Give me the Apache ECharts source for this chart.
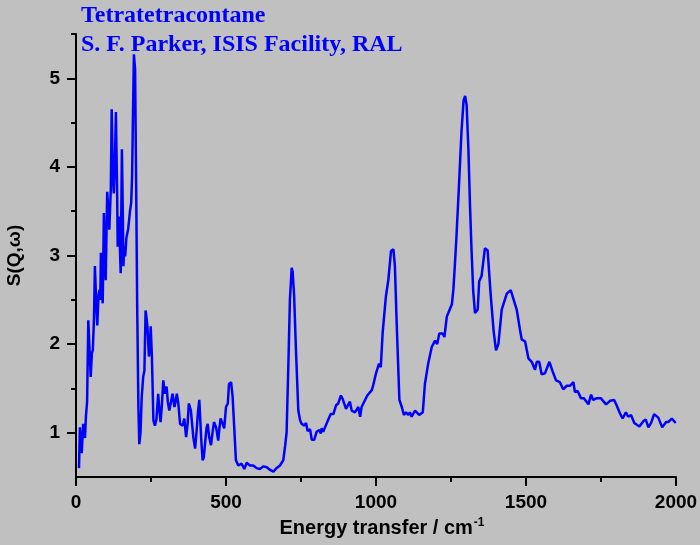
<!DOCTYPE html>
<html>
<head>
<meta charset="utf-8">
<script src="https://cdn.jsdelivr.net/npm/echarts@6/dist/echarts.min.js"></script>
<style>
  html, body { margin: 0; padding: 0; background: #c0c0c0; }
  #chart { width: 700px; height: 545px; }
</style>
</head>
<body>
<div id="chart"></div>
<script>
// energy transfer (cm-1) and S(Q,w)
const energy = [
  10, 13, 19, 24, 30, 33, 37, 41, 45, 49, 53, 56, 60, 63, 67, 71, 75, 78, 81, 83,
  86, 89, 93, 96, 99, 104, 108, 111, 116, 119, 123, 126, 130, 133, 137, 139, 142, 144, 147, 149,
  153, 156, 158, 161, 164, 168, 174, 180, 184, 187, 190, 193, 197, 200, 204, 208, 211, 215, 219, 224,
  228, 232, 235, 238, 243, 246, 249, 253, 258, 263, 268, 274, 278, 282, 286, 291, 296, 302, 306, 311,
  317, 322, 328, 332, 336, 341, 347, 352, 356, 361, 367, 372, 376, 383, 387, 391, 397, 402, 407, 411,
  417, 422, 426, 430, 435, 439, 444, 450, 455, 460, 467, 474, 478, 482, 489, 494, 500, 506, 510, 517,
  522, 528, 533, 541, 552, 561, 569, 580, 591, 602, 613, 625, 636, 647, 658, 668, 680, 691, 697, 702,
  708, 713, 719, 722, 727, 733, 741, 747, 752, 760, 767, 772, 780, 786, 794, 802, 811, 816, 819, 824,
  830, 841, 849, 858, 867, 874, 883, 889, 900, 913, 919, 930, 941, 947, 952, 958, 971, 986, 991, 1000,
  1006, 1010, 1016, 1022, 1033, 1041, 1050, 1058, 1063, 1069, 1078, 1086, 1093, 1100, 1108, 1113, 1119, 1130, 1144, 1156,
  1163, 1174, 1186, 1197, 1204, 1211, 1222, 1228, 1236, 1241, 1247, 1253, 1258, 1263, 1268, 1276, 1285, 1292, 1297, 1302,
  1308, 1313, 1318, 1324, 1330, 1339, 1344, 1352, 1363, 1372, 1382, 1392, 1400, 1408, 1419, 1436, 1449, 1458, 1469, 1480,
  1486, 1497, 1508, 1519, 1530, 1536, 1544, 1552, 1563, 1578, 1589, 1600, 1613, 1624, 1636, 1647, 1658, 1663, 1672, 1683,
  1693, 1708, 1717, 1724, 1736, 1749, 1767, 1780, 1794, 1802, 1813, 1822, 1833, 1841, 1850, 1861, 1878, 1891, 1899, 1908,
  1917, 1927, 1941, 1954, 1967, 1974, 1986, 1999
];
const sqw = [
  0.60, 1.06, 0.77, 1.10, 0.94, 1.18, 1.35, 2.27, 1.95, 1.63, 1.90, 1.93, 2.30, 2.88, 2.50, 2.21, 2.55, 2.61, 2.50, 3.03,
  2.80, 2.46, 3.48, 3.00, 2.72, 3.72, 3.50, 3.29, 3.75, 4.65, 3.90, 3.70, 4.10, 4.62, 3.74, 3.10, 3.35, 3.44, 3.00, 2.80,
  4.20, 3.50, 2.88, 3.10, 2.99, 3.20, 3.30, 3.50, 3.60, 3.90, 4.60, 5.27, 5.10, 4.00, 2.42, 1.29, 0.87, 1.00, 1.40, 1.63,
  1.70, 2.38, 2.30, 2.20, 1.86, 1.95, 2.20, 1.86, 1.14, 1.08, 1.15, 1.44, 1.25, 1.12, 1.30, 1.59, 1.44, 1.52, 1.35, 1.25,
  1.23, 1.44, 1.29, 1.35, 1.44, 1.33, 1.10, 1.08, 1.08, 1.16, 0.95, 1.10, 1.33, 1.25, 1.10, 0.95, 0.82, 1.02, 1.25, 1.37,
  0.95, 0.69, 0.72, 0.87, 1.05, 1.10, 0.95, 0.86, 1.00, 1.12, 1.06, 0.91, 1.05, 1.16, 1.10, 1.05, 1.29, 1.33, 1.55, 1.57,
  1.41, 1.02, 0.69, 0.63, 0.65, 0.59, 0.66, 0.63, 0.63, 0.60, 0.59, 0.62, 0.61, 0.58, 0.56, 0.60, 0.63, 0.69, 0.85, 1.00,
  1.78, 2.50, 2.86, 2.82, 2.55, 1.95, 1.25, 1.14, 1.10, 1.08, 1.11, 1.02, 1.04, 0.92, 0.92, 1.01, 1.03, 0.99, 1.05, 1.01,
  1.06, 1.15, 1.21, 1.21, 1.31, 1.33, 1.42, 1.38, 1.27, 1.35, 1.25, 1.23, 1.29, 1.18, 1.29, 1.27, 1.42, 1.48, 1.54, 1.67,
  1.65, 1.78, 1.74, 2.12, 2.54, 2.72, 3.05, 3.07, 2.88, 2.23, 1.37, 1.29, 1.20, 1.23, 1.20, 1.23, 1.18, 1.25, 1.20, 1.23,
  1.55, 1.78, 1.97, 2.04, 2.00, 2.12, 2.12, 2.08, 2.31, 2.35, 2.33, 2.45, 2.62, 2.90, 3.20, 3.75, 4.40, 4.75, 4.80, 4.70,
  4.20, 3.60, 3.10, 2.60, 2.35, 2.39, 2.71, 2.77, 3.08, 3.06, 2.57, 2.15, 1.93, 2.00, 2.39, 2.57, 2.61, 2.51, 2.39, 2.16,
  2.05, 2.03, 1.84, 1.80, 1.71, 1.80, 1.80, 1.66, 1.67, 1.80, 1.69, 1.59, 1.57, 1.49, 1.53, 1.53, 1.57, 1.46, 1.47, 1.39,
  1.39, 1.32, 1.43, 1.37, 1.39, 1.39, 1.32, 1.36, 1.37, 1.31, 1.22, 1.16, 1.23, 1.18, 1.20, 1.11, 1.07, 1.13, 1.15, 1.06,
  1.11, 1.21, 1.17, 1.06, 1.12, 1.12, 1.16, 1.11
];

// tick values
const xMajorTicks = [0, 500, 1000, 1500, 2000];
const xMinorTicks = [250, 750, 1250, 1750];
const yMajorTicks = [1, 2, 3, 4, 5];
const yMinorTicks = [1.5, 2.5, 3.5, 4.5, 5.5];

window.onload = function(){

	var chart = echarts.init(document.getElementById('chart'));

	var points = energy.map(function(e, i){
		return [e, sqw[i]];
	});

	var axisFont = {
		fontFamily: 'Arial, "Liberation Sans", sans-serif',
		fontWeight: 'bold',
		fontSize: 19,
		color: '#000',
		formatter: function(v){ return String(v); }
	};

	var option = {
		backgroundColor: '#c0c0c0',
		animation: false,
		title: {
			text: 'Tetratetracontane\nS. F. Parker, ISIS Facility, RAL',
			left: 81,
			top: 1,
			padding: 0,
			textStyle: {
				fontFamily: '"Times New Roman", "Liberation Serif", serif',
				fontWeight: 'bold',
				fontSize: 24,
				lineHeight: 29,
				color: '#0000ff'
			}
		},
		grid: {
			left: 76,
			right: 24,
			top: 34,
			bottom: 68,
			outerBoundsMode: 'none'
		},
		xAxis: [
			{
				type: 'value',
				min: 0,
				max: 2000,
				name: 'Energy transfer / cm{sup|-1}',
				nameLocation: 'middle',
				nameGap: 38,
				nameTextStyle: {
					fontFamily: 'Arial, "Liberation Sans", sans-serif',
					fontWeight: 'bold',
					fontSize: 20,
					color: '#000',
					padding: [0, 0, 0, 12],
					rich: {
						sup: {
							fontFamily: 'Arial, "Liberation Sans", sans-serif',
							fontWeight: 'bold',
							fontSize: 12,
							color: '#000',
							padding: [0, 0, 12, 1]
						}
					}
				},
				axisLine: { lineStyle: { color: '#000', width: 2 } },
				axisTick: { length: 9, lineStyle: { width: 2 }, customValues: xMajorTicks },
				axisLabel: Object.assign({ margin: 16, customValues: xMajorTicks }, axisFont),
				splitLine: { show: false }
			},
			{
				type: 'value',
				min: 0,
				max: 2000,
				position: 'bottom',
				axisLine: { show: false },
				axisTick: { length: 5, lineStyle: { color: '#000', width: 2 }, customValues: xMinorTicks },
				axisLabel: { show: false },
				splitLine: { show: false }
			}
		],
		yAxis: [
			{
				type: 'value',
				min: 0.5,
				max: 5.5,
				name: 'S(Q,ω)',
				nameLocation: 'middle',
				nameGap: 52,
				nameTextStyle: {
					fontFamily: 'Arial, "Liberation Sans", sans-serif',
					fontWeight: 'bold',
					fontSize: 19,
					color: '#000'
				},
				axisLine: { show: true, lineStyle: { color: '#000', width: 2 } },
				axisTick: { show: true, length: 9, lineStyle: { width: 2 }, customValues: yMajorTicks },
				axisLabel: Object.assign({ margin: 16, customValues: yMajorTicks }, axisFont),
				splitLine: { show: false }
			},
			{
				type: 'value',
				min: 0.5,
				max: 5.5,
				position: 'left',
				axisLine: { show: false },
				axisTick: { show: true, length: 5, lineStyle: { color: '#000', width: 2 }, customValues: yMinorTicks },
				axisLabel: { show: false },
				splitLine: { show: false }
			}
		],
		series: [
			{
				type: 'line',
				data: points,
				showSymbol: false,
				lineStyle: { color: '#0000ff', width: 2.5 },
				clip: true
			}
		]
	};

	chart.setOption(option);
}
</script>
</body>
</html>
